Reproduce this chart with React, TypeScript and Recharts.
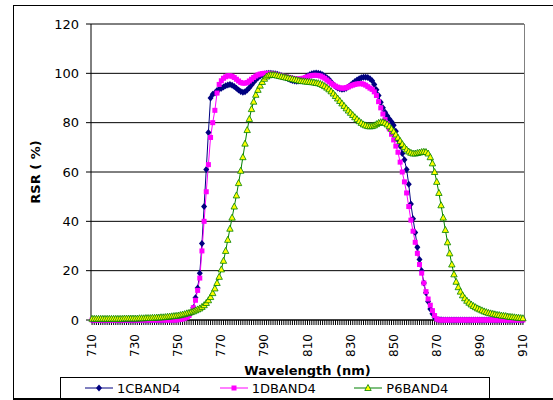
import { LineChart, Line, XAxis, YAxis, CartesianGrid } from "recharts";

const FONT = "DejaVu Sans";

// wavelength categories, 1 nm step
const WAVELENGTHS = Array.from({ length: 201 }, (_, i) => 710 + i);
const X_LABELS = [710, 730, 750, 770, 790, 810, 830, 850, 870, 890, 910];
const Y_TICKS = [0, 20, 40, 60, 80, 100, 120];

// 1CBAND4 (710..910)
const BAND_1C = [
  0, 0, 0, 0, 0, 0, 0, 0, 0, 0,
  0, 0, 0, 0, 0, 0, 0, 0, 0, 0,
  0, 0, 0, 0, 0, 0, 0, 0, 0, 0,
  0, 0, 0, 0, 0, 0.1, 0.1, 0.1, 0.2, 0.2,
  0.3, 0.4, 0.5, 0.8, 1.2, 1.8, 3, 5, 9, 13,
  19, 31, 46, 61, 76, 90, 91.5, 92, 93, 93.5,
  94, 94.5, 95, 95.3, 95.5, 95.2, 94.7, 94, 93.2, 92.6,
  92.3, 92.5, 93.2, 94.2, 95.3, 96.4, 97.4, 98.2, 98.9, 99.4,
  99.7, 99.9, 100, 100, 99.9, 99.8, 99.6, 99.3, 99, 98.6,
  98.2, 97.8, 97.4, 97.1, 96.9, 96.8, 96.9, 97.2, 97.7, 98.3,
  98.9, 99.4, 99.8, 100, 100.1, 100, 99.8, 99.4, 98.8, 98.2,
  97.5, 96.5, 95.5, 94.7, 94.1, 93.7, 93.5, 93.6, 94, 94.6,
  95.3, 96, 96.7, 97.3, 97.8, 98.2, 98.4, 98.4, 98.3, 97.8,
  97, 95.5, 93.3, 91, 88.3, 86, 84.2, 82.8, 81.5, 80.4,
  79, 76.5, 73, 70.5, 67.5, 65, 61, 55, 47, 41,
  35.5, 29.5, 24.5, 20, 15, 11, 7.5, 4.5, 2.5, 1,
  0.3, 0.1, 0.1, 0, 0, 0, 0, 0, 0, 0,
  0, 0, 0, 0, 0, 0, 0, 0, 0, 0,
  0, 0, 0, 0, 0, 0, 0, 0, 0, 0,
  0, 0, 0, 0, 0, 0, 0, 0, 0, 0,
  0,
];

// 1DBAND4 (710..910)
const BAND_1D = [
  0, 0, 0, 0, 0, 0, 0, 0, 0, 0,
  0, 0, 0, 0, 0, 0, 0, 0, 0, 0,
  0, 0, 0, 0, 0, 0, 0, 0, 0, 0,
  0, 0, 0, 0, 0, 0, 0, 0, 0, 0,
  0.1, 0.2, 0.4, 0.7, 1.1, 1.8, 3, 5, 8, 12,
  17, 28, 40, 52, 63, 74, 80, 85, 92, 95.5,
  97, 98, 98.6, 99, 99, 98.8, 98.3, 97.6, 96.9, 96.3,
  96, 96, 96.3, 96.9, 97.6, 98.3, 98.9, 99.4, 99.7, 99.9,
  100, 100, 100, 99.9, 99.8, 99.6, 99.4, 99.2, 99, 98.8,
  98.6, 98.4, 98.2, 98, 97.8, 97.7, 97.7, 97.8, 98, 98.3,
  98.6, 98.9, 99.1, 99.2, 99.2, 99.1, 98.9, 98.5, 98, 97.3,
  96.6, 95.9, 95.3, 94.8, 94.4, 94.1, 94, 94, 94.2, 94.5,
  94.9, 95.2, 95.5, 95.7, 95.8, 95.8, 95.6, 95.2, 94.6, 94,
  93.5, 92.5, 91, 88.5, 86, 83.5, 81.3, 79.5, 77.5, 75.3,
  73, 70.5, 68, 64, 60, 56, 51.5, 46, 40.5, 36,
  31.5, 27, 22.5, 19, 15, 11.5, 8.5, 6, 3.8, 1.8,
  0.4, 0, 0, 0, 0, 0, 0, 0, 0, 0,
  0, 0, 0, 0, 0, 0, 0, 0, 0, 0,
  0, 0, 0, 0, 0, 0, 0, 0, 0, 0,
  0, 0, 0, 0, 0, 0, 0, 0, 0, 0,
  0,
];

// P6BAND4 (710..910)
const BAND_P6 = [
  0.5, 0.5, 0.5, 0.5, 0.5, 0.5, 0.5, 0.5, 0.5, 0.5,
  0.5, 0.5, 0.5, 0.5, 0.5, 0.6, 0.6, 0.6, 0.6, 0.6,
  0.6, 0.6, 0.7, 0.7, 0.7, 0.8, 0.8, 0.8, 0.9, 0.9,
  1, 1, 1.1, 1.1, 1.2, 1.3, 1.4, 1.5, 1.6, 1.7,
  1.8, 2, 2.2, 2.4, 2.7, 2.9, 3.2, 3.5, 3.9, 4.3,
  4.7, 5.3, 6, 6.9, 8, 9.3, 10.9, 12.8, 15, 17.5,
  20.5, 24, 28, 32.5, 37, 41.5, 46, 50.5, 55.5, 60.5,
  66, 71.5, 77, 81.5, 85.5, 88.5, 91.3, 93.3, 95, 96.5,
  97.8, 98.7, 99.2, 99.4, 99.4, 99.3, 99.1, 98.9, 98.7, 98.5,
  98.3, 98.1, 97.9, 97.7, 97.5, 97.3, 97.1, 96.9, 96.8, 96.7,
  96.6, 96.5, 96.4, 96.3, 96.1, 96, 95.7, 95.3, 94.8, 94.2,
  93.5, 92.7, 91.8, 90.8, 89.8, 88.8, 87.8, 86.8, 85.8, 84.9,
  84, 83.1, 82.2, 81.4, 80.6, 79.9, 79.3, 78.9, 78.6, 78.5,
  78.6, 78.9, 79.4, 79.9, 80.2, 80.2, 79.9, 79.3, 78.5, 77.5,
  76.4, 75.2, 73.9, 72.6, 71.3, 70.1, 69.1, 68.3, 67.8, 67.5,
  67.5, 67.7, 67.9, 68.1, 68.2, 68.1, 67.5, 66, 63.5, 60,
  56, 51.5, 46.5, 41.5, 36.5, 31.5, 27, 22.5, 18.5, 15.5,
  13.3, 11.5, 10, 8.8, 7.8, 7, 6.3, 5.7, 5.2, 4.7,
  4.3, 3.9, 3.5, 3.2, 2.9, 2.7, 2.5, 2.3, 2.1, 2,
  1.8, 1.7, 1.6, 1.4, 1.3, 1.2, 1.1, 1, 0.9, 0.8,
  0.7,
];

const data = WAVELENGTHS.map((wl, i) => ({
  wl,
  c1: BAND_1C[i],
  d1: BAND_1D[i],
  p6: BAND_P6[i],
}));

const NAVY = "#000080";
const MAGENTA = "#FF00FF";
const GREEN = "#008000";
const YELLOW = "#FFFF00";

function Diamond({ cx, cy }: { cx: number; cy: number }) {
  return <path d={`M${cx},${cy - 3.5}L${cx + 3},${cy}L${cx},${cy + 3.5}L${cx - 3},${cy}Z`} fill={NAVY} />;
}

function Square({ cx, cy }: { cx: number; cy: number }) {
  return <rect x={cx - 2.5} y={cy - 2.5} width={5} height={5} fill={MAGENTA} />;
}

function Triangle({ cx, cy }: { cx: number; cy: number }) {
  return (
    <path
      d={`M${cx},${cy - 3.5}L${cx + 3.2},${cy + 2.5}L${cx - 3.2},${cy + 2.5}Z`}
      fill={YELLOW}
      stroke={GREEN}
      strokeWidth={0.8}
    />
  );
}

const renderDot = (Shape: typeof Diamond) => (props: any) =>
  <Shape key={`dot-${props.index}`} cx={props.cx} cy={props.cy} />;

function WaveTick({ x, y, payload }: any) {
  if (!X_LABELS.includes(payload.value)) return <g />;
  return (
    <text
      x={x}
      y={y}
      transform={`rotate(-90 ${x} ${y})`}
      textAnchor="end"
      dominantBaseline="central"
      fontSize={12}
      fontFamily={FONT}
      fill="#000"
    >
      {payload.value}
    </text>
  );
}

const LEGEND = [
  { name: "1CBAND4", color: NAVY, Shape: Diamond },
  { name: "1DBAND4", color: MAGENTA, Shape: Square },
  { name: "P6BAND4", color: GREEN, Shape: Triangle },
];

export default function App() {
  return (
    <div
      style={{
        position: "absolute",
        left: 0,
        top: 0,
        width: 553,
        height: 400,
        overflow: "hidden",
        background: "#fff",
        fontFamily: FONT,
      }}
    >
      {/* outer chart border */}
      <div
        style={{
          position: "absolute",
          left: 13,
          top: 5,
          width: 600,
          height: 395,
          boxSizing: "border-box",
          borderTop: "1px solid #000",
          borderLeft: "1px solid #000",
          borderBottom: "2px solid #000",
        }}
      />
      {/* plot area right edge */}
      <div
        style={{
          position: "absolute",
          left: 91,
          top: 24,
          width: 433,
          height: 296,
          borderRight: "1px solid #808080",
        }}
      />
      <div style={{ position: "absolute", left: 0, top: 0 }}>
        <LineChart
          width={553}
          height={400}
          data={data}
          margin={{ top: 24, right: 29, bottom: 22, left: 13 }}
        >
          <CartesianGrid vertical={false} stroke="#000" />
          <XAxis
            dataKey="wl"
            type="number"
            domain={[709.5, 910.5]}
            ticks={WAVELENGTHS}
            interval={0}
            height={58}
            tickSize={5}
            tickMargin={9}
            axisLine={{ stroke: "#000" }}
            tickLine={{ stroke: "#000" }}
            tick={<WaveTick />}
            label={{
              value: "Wavelength (nm)",
              position: "insideBottom",
              offset: 3.5,
              style: { fontWeight: "bold", fontSize: 13, fontFamily: FONT, fill: "#000" },
            }}
          />
          <YAxis
            domain={[0, 120]}
            ticks={Y_TICKS}
            width={78}
            tickSize={5}
            tickMargin={7}
            axisLine={{ stroke: "#000" }}
            tickLine={{ stroke: "#000" }}
            tick={{ fontSize: 13, fontFamily: FONT, fill: "#000" }}
            label={{
              value: "RSR ( %)",
              angle: -90,
              position: "insideLeft",
              offset: 22,
              style: { textAnchor: "middle", fontWeight: "bold", fontSize: 13, fontFamily: FONT, fill: "#000" },
            }}
          />
          <Line
            dataKey="c1"
            stroke={NAVY}
            strokeWidth={1}
            dot={renderDot(Diamond)}
            activeDot={false}
            isAnimationActive={false}
          />
          <Line
            dataKey="d1"
            stroke={MAGENTA}
            strokeWidth={1}
            dot={renderDot(Square)}
            activeDot={false}
            isAnimationActive={false}
          />
          <Line
            dataKey="p6"
            stroke={GREEN}
            strokeWidth={1}
            dot={renderDot(Triangle)}
            activeDot={false}
            isAnimationActive={false}
          />
        </LineChart>
      </div>
      {/* legend */}
      <div
        style={{
          position: "absolute",
          left: 60,
          top: 377,
          width: 430,
          height: 22,
          boxSizing: "border-box",
          border: "1px solid #000",
          display: "flex",
          alignItems: "center",
          paddingLeft: 24,
        }}
      >
        {LEGEND.map((s) => (
          <div key={s.name} style={{ width: 143.5, display: "flex", alignItems: "center" }}>
            <svg width={28} height={10} style={{ display: "block" }}>
              <line x1={0} y1={5} x2={28} y2={5} stroke={s.color} strokeWidth={1} />
              <s.Shape cx={14} cy={5} />
            </svg>
            <span style={{ marginLeft: 4, fontSize: 13, lineHeight: "13px", color: "#000" }}>{s.name}</span>
          </div>
        ))}
      </div>
    </div>
  );
}
